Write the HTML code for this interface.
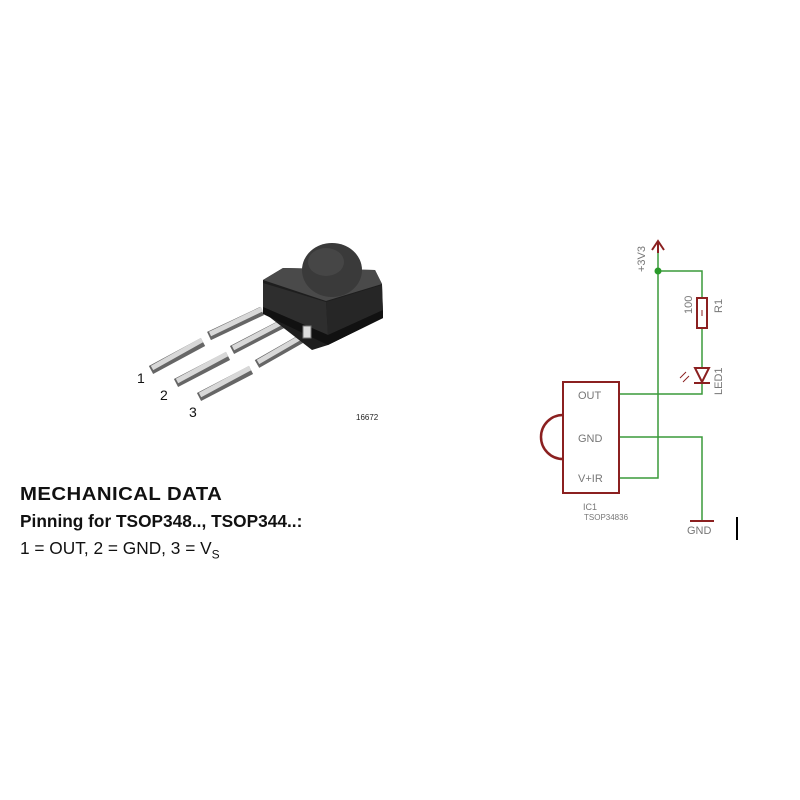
<!DOCTYPE html>
<html><head><meta charset="utf-8"><style>
body{margin:0;background:#fff;width:800px;height:800px;overflow:hidden;font-family:"Liberation Sans",sans-serif}
.t{position:absolute;left:20px;white-space:nowrap;color:#111}
</style></head><body>
<svg width="800" height="800" style="position:absolute;left:0;top:0">
<!-- back pins -->
<g stroke-linecap="butt">
<g stroke="#666" stroke-width="9">
<line x1="209" y1="336" x2="262" y2="311"/>
<line x1="232" y1="350" x2="290" y2="320"/>
<line x1="257" y1="364" x2="308" y2="335"/>
</g>
<g stroke="#d8d8d8" stroke-width="5">
<line x1="210" y1="334" x2="262" y2="309"/>
<line x1="233" y1="348" x2="290" y2="318"/>
<line x1="258" y1="362" x2="308" y2="333"/>
</g>
</g>
<!-- body -->
<polygon points="263,280 283,268 375,270 382,284 383,318 328,345 312,350 263,312" fill="#1e1e1e"/>
<polygon points="263,280 283,268 375,270 382,284 326,301" fill="#4a4a4a"/>
<ellipse cx="332" cy="270" rx="30" ry="27" fill="#3a3a3a"/>
<ellipse cx="326" cy="262" rx="18" ry="14" fill="#464646"/>
<polygon points="263,283 326,302 328,335 263,307" fill="#2e2e2e"/>
<polygon points="326,302 382,285 383,310 328,335" fill="#262626"/>
<polygon points="263,307 328,335 383,310 383,318 328,345 263,314" fill="#111"/>
<rect x="303" y="326" width="8" height="12" fill="#ddd" stroke="#777" stroke-width="1"/>
<!-- front pins -->
<g stroke-linecap="butt">
<g stroke="#666" stroke-width="9">
<line x1="151" y1="370" x2="203" y2="342"/>
<line x1="176" y1="383" x2="228" y2="356"/>
<line x1="199" y1="397" x2="251" y2="370"/>
</g>
<g stroke="#d8d8d8" stroke-width="5">
<line x1="152" y1="368" x2="202" y2="340"/>
<line x1="177" y1="381" x2="227" y2="354"/>
<line x1="200" y1="395" x2="250" y2="368"/>
</g>
</g>
<text x="137" y="383" font-size="14" fill="#111">1</text>
<text x="160" y="400" font-size="14" fill="#111">2</text>
<text x="189" y="417" font-size="14" fill="#111">3</text>
<text x="356" y="420" font-size="8" fill="#222">16672</text>
<!-- schematic -->
<g fill="none" stroke="#3a9a3a" stroke-width="1.5">
<polyline points="658,245 658,478 619,478"/>
<polyline points="658,271 702,271 702,298"/>
<line x1="702" y1="328" x2="702" y2="367"/>
<polyline points="702,383 702,394 619,394"/>
<polyline points="619,437 702,437 702,520"/>
</g>
<circle cx="658" cy="271" r="3.5" fill="#2a9a2a"/>
<g fill="none" stroke="#8b2020" stroke-width="2">
<rect x="563" y="382" width="56" height="111"/>
<path d="M563,415 A22,22 0 0 0 563,459" stroke-width="2.5"/>
<rect x="697" y="298" width="10" height="30"/>
<polyline points="652,250 658,241 664,250"/>
<line x1="658" y1="241" x2="658" y2="253"/>
<polygon points="695,368 709,368 702,382"/>
<line x1="694" y1="383" x2="710" y2="383"/>
<line x1="690" y1="521" x2="714" y2="521"/>
<line x1="686" y1="372" x2="680" y2="378" stroke-width="1"/>
<line x1="689" y1="376" x2="683" y2="382" stroke-width="1"/>
</g>
<line x1="702" y1="310" x2="702" y2="316" stroke="#8b2020" stroke-width="1"/>
<line x1="737" y1="517" x2="737" y2="540" stroke="#000" stroke-width="2"/>
<g font-size="11" fill="#777">
<text x="578" y="399">OUT</text>
<text x="578" y="442">GND</text>
<text x="578" y="482">V+IR</text>
<text x="583" y="510" font-size="9">IC1</text>
<text x="584" y="520" font-size="8">TSOP34836</text>
<text x="687" y="534">GND</text>
<text transform="translate(645,272) rotate(-90)" font-size="11">+3V3</text>
<text transform="translate(692,314) rotate(-90)" font-size="11">100</text>
<text transform="translate(722,313) rotate(-90)" font-size="11">R1</text>
<text transform="translate(722,395) rotate(-90)" font-size="11">LED1</text>
</g>
</svg>
<div class="t" style="top:484px;font-size:18px;font-weight:bold;letter-spacing:0.4px;transform:scaleX(1.13);transform-origin:left">MECHANICAL DATA</div>
<div class="t" style="top:511px;font-size:17.3px;font-weight:bold">Pinning for TSOP348.., TSOP344..:</div>
<div class="t" style="top:538px;font-size:17.3px">1 = OUT, 2 = GND, 3 = V<sub style="font-size:12px">S</sub></div>
</body></html>
